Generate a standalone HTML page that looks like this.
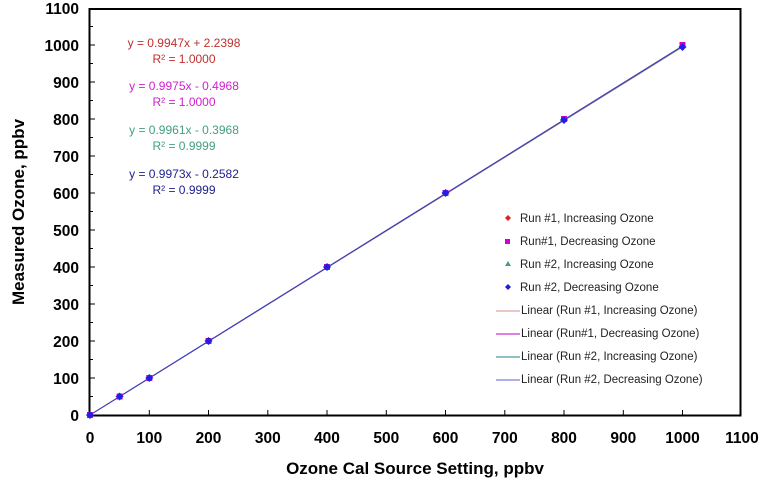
<!DOCTYPE html>
<html><head><meta charset="utf-8"><style>
body{margin:0;background:#fff;width:774px;height:486px;overflow:hidden}
text{font-family:"Liberation Sans",Arial,sans-serif}
</style></head><body>
<svg width="774" height="486" viewBox="0 0 774 486">
<rect width="774" height="486" fill="#fff"/>
<rect x="89.5" y="9" width="651" height="406.5" fill="none" stroke="#000" stroke-width="2"/>
<g stroke="#000" stroke-width="1">
<path d="M89 415H95M89 396.5H93M89 378H95M89 359.5H93M89 341H95M89 322.5H93M89 304H95M89 285.5H93M89 267H95M89 248.5H93M89 230H95M89 211.5H93M89 193H95M89 174.5H93M89 156H95M89 137.5H93M89 119H95M89 100.5H93M89 82H95M89 63.5H93M89 45H95M89 26.5H93"/>
<path d="M149.3 415V410M208.5 415V410M267.8 415V410M327 415V410M386.3 415V410M445.5 415V410M504.8 415V410M564 415V410M623.3 415V410M682.5 415V410"/>
</g>
<g font-size="15.5" font-weight="bold" text-anchor="end" fill="#000">
<text x="79" y="421">0</text><text x="79" y="384">100</text><text x="79" y="347">200</text><text x="79" y="310">300</text><text x="79" y="273">400</text><text x="79" y="236">500</text><text x="79" y="199">600</text><text x="79" y="162">700</text><text x="79" y="125">800</text><text x="79" y="88">900</text><text x="79" y="51">1000</text><text x="79" y="14">1100</text>
</g>
<g font-size="15.5" font-weight="bold" text-anchor="middle" fill="#000">
<text x="90" y="443">0</text><text x="149.3" y="443">100</text><text x="208.5" y="443">200</text><text x="267.8" y="443">300</text><text x="327" y="443">400</text><text x="386.3" y="443">500</text><text x="445.5" y="443">600</text><text x="504.8" y="443">700</text><text x="564" y="443">800</text><text x="623.3" y="443">900</text><text x="682.5" y="443">1000</text><text x="742" y="443">1100</text>
</g>
<text x="415" y="474" font-size="17" font-weight="bold" text-anchor="middle">Ozone Cal Source Setting, ppbv</text>
<text transform="translate(24 212) rotate(-90)" font-size="17" font-weight="bold" text-anchor="middle">Measured Ozone, ppbv</text>
<line x1="90" y1="415" x2="682.5" y2="47" stroke="#d08080" stroke-width="1"/>
<line x1="90" y1="415" x2="682.5" y2="46" stroke="#c000c0" stroke-width="1"/>
<line x1="90" y1="415" x2="682.5" y2="46.5" stroke="#208080" stroke-width="1"/>
<line x1="90" y1="415" x2="682.5" y2="46" stroke="#4040c0" stroke-width="1"/>
<g fill="#d000d0">
<rect x="87" y="412" width="6" height="6"/><rect x="116.6" y="393.5" width="6" height="6"/><rect x="146.3" y="375" width="6" height="6"/><rect x="205.5" y="338" width="6" height="6"/><rect x="324" y="264" width="6" height="6"/><rect x="442.5" y="190" width="6" height="6"/><rect x="561" y="116" width="6" height="6"/><rect x="679.5" y="42" width="6" height="6"/>
</g>
<g fill="#2020e0">
<path d="M90 411l4 4-4 4-4-4zM119.6 392.5l4 4-4 4-4-4zM149.3 374l4 4-4 4-4-4zM208.5 337l4 4-4 4-4-4zM327 263l4 4-4 4-4-4zM445.5 189l4 4-4 4-4-4zM564 116l4 4-4 4-4-4zM682.5 43l4 4-4 4-4-4z"/>
</g>
<g font-size="12" text-anchor="middle">
<text x="184" y="47" fill="#c03030">y = 0.9947x + 2.2398</text><text x="184" y="63" fill="#c03030">R² = 1.0000</text>
<text x="184" y="90" fill="#d020d0">y = 0.9975x - 0.4968</text><text x="184" y="106" fill="#d020d0">R² = 1.0000</text>
<text x="184" y="134" fill="#40a080">y = 0.9961x - 0.3968</text><text x="184" y="150" fill="#40a080">R² = 0.9999</text>
<text x="184" y="178" fill="#202090">y = 0.9973x - 0.2582</text><text x="184" y="194" fill="#202090">R² = 0.9999</text>
</g>
<g font-size="11.5" fill="#222">
<path d="M508 215l3 3-3 3-3-3z" fill="#e02020"/><text x="520" y="222">Run #1, Increasing Ozone</text>
<rect x="505" y="239" width="5" height="5" fill="#d000d0"/><text x="520" y="245">Run#1, Decreasing Ozone</text>
<path d="M508 261l3 5h-6z" fill="#40a080"/><text x="520" y="268">Run #2, Increasing Ozone</text>
<path d="M508 284l3 3-3 3-3-3z" fill="#2020d0"/><text x="520" y="291">Run #2, Decreasing Ozone</text>
<line x1="496" y1="311" x2="520" y2="311" stroke="#d09090"/><text x="521" y="314">Linear (Run #1, Increasing Ozone)</text>
<line x1="496" y1="334" x2="520" y2="334" stroke="#c000c0"/><text x="521" y="337">Linear (Run#1, Decreasing Ozone)</text>
<line x1="496" y1="357" x2="520" y2="357" stroke="#208080"/><text x="521" y="360">Linear (Run #2, Increasing Ozone)</text>
<line x1="496" y1="380" x2="520" y2="380" stroke="#6060d0"/><text x="521" y="383">Linear (Run #2, Decreasing Ozone)</text>
</g>
</svg>
</body></html>
